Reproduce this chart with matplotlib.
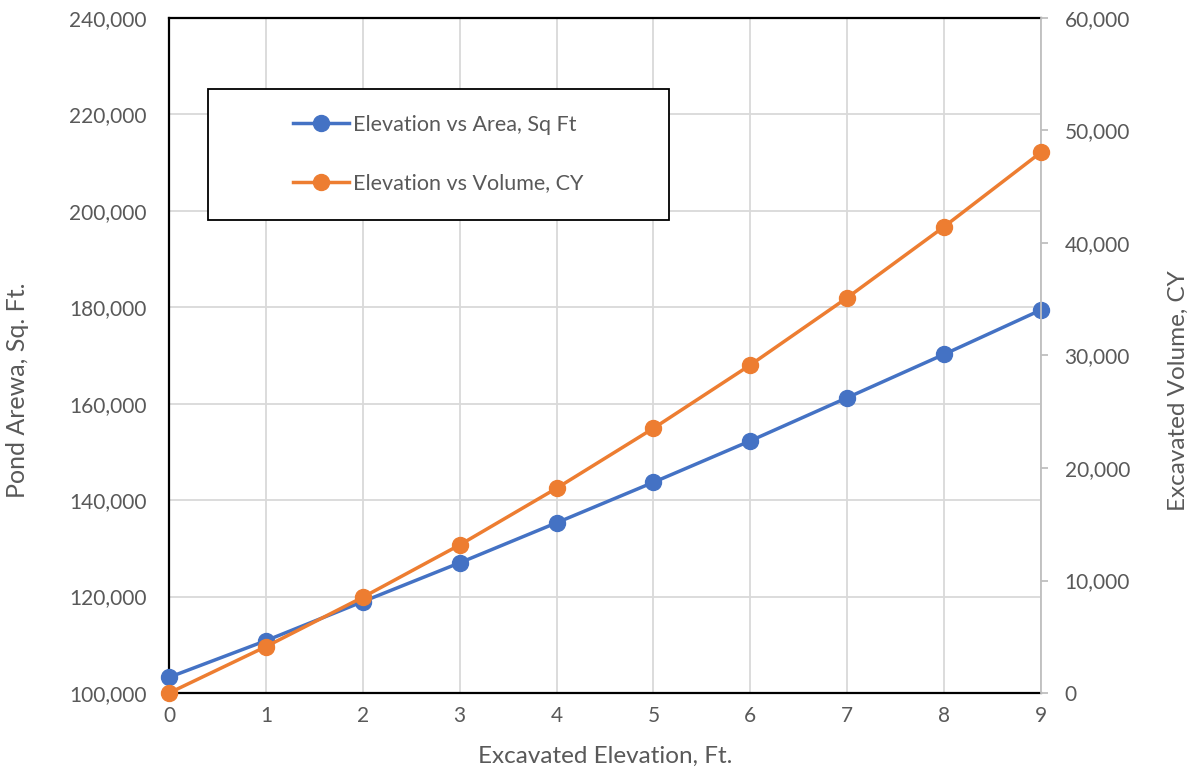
import matplotlib
matplotlib.use("Agg")
import matplotlib.pyplot as plt
from matplotlib.patches import Rectangle
from matplotlib.ticker import FuncFormatter, MultipleLocator

plt.rcParams['font.family'] = ['Lato', 'DejaVu Sans']

# Pond excavation data
elevation_ft = [0, 1, 2, 3, 4, 5, 6, 7, 8, 9]
area_sqft = [103250, 110850, 118950, 127000, 135300, 143700, 152300, 161250, 170250, 179450]
volume_cy = [0, 4120, 8510, 13160, 18200, 23530, 29160, 35140, 41450, 48060]

area_label = "Elevation vs Area, Sq Ft"
volume_label = "Elevation vs Volume, CY"

BLUE = "#4472C4"
ORANGE = "#ED7D31"
TEXT = "#595959"
GRID = "#D9D9D9"

W, H = 1188, 770
fig = plt.figure(figsize=(W / 100, H / 100), dpi=100)
ax = fig.add_axes([169 / W, 1 - 693 / H, (1041 - 169) / W, (693 - 18) / H])
ax2 = ax.twinx()

ax.plot(elevation_ft, area_sqft, color=BLUE, lw=2.5, marker='o', ms=11.5,
        label=area_label, zorder=3, clip_on=False)
ax2.plot(elevation_ft, volume_cy, color=ORANGE, lw=2.5, marker='o', ms=11.5,
         label=volume_label, zorder=3, clip_on=False)

ax.set_xlim(0, 9)
ax.set_ylim(100000, 240000)
ax2.set_ylim(0, 60000)
ax.xaxis.set_major_locator(MultipleLocator(1))
ax.yaxis.set_major_locator(MultipleLocator(20000))
ax2.yaxis.set_major_locator(MultipleLocator(10000))

fmt = FuncFormatter(lambda v, p: f"{int(round(v)):,}")
ax.yaxis.set_major_formatter(fmt)
ax2.yaxis.set_major_formatter(fmt)

ax.grid(True, color=GRID, lw=1.3, zorder=0)
ax.set_axisbelow(True)

for s in ['left', 'top', 'bottom']:
    ax.spines[s].set_color('black')
    ax.spines[s].set_linewidth(1.6)
ax.spines['right'].set_visible(False)
for s in ['left', 'top', 'bottom']:
    ax2.spines[s].set_visible(False)
ax2.spines['right'].set_color('#BFBFBF')
ax2.spines['right'].set_linewidth(1.3)

ax.tick_params(axis='y', length=0, pad=16, labelsize=15, labelcolor=TEXT)
ax.tick_params(axis='x', length=0, pad=9, labelsize=15, labelcolor=TEXT)
ax2.tick_params(axis='y', length=5, width=1.3, color='#BFBFBF', pad=12,
                labelsize=15, labelcolor=TEXT)

ax.set_xlabel("Excavated Elevation, Ft.", fontsize=17.5, color=TEXT, labelpad=15)
ax.set_ylabel("Pond Arewa, Sq. Ft.", fontsize=18, color=TEXT, labelpad=29)
ax2.set_ylabel("Excavated Volume, CY", fontsize=17.5, color=TEXT, rotation=90,
               labelpad=27)
# both axis titles sit centred on the figure height rather than the plot area
ax.yaxis.label.set_y(0.448)
ax2.yaxis.label.set_y(0.448)

# Legend box with frameless legend inside
x0, x1 = (208 - 169) / 872, (669 - 169) / 872
y0, y1 = (693 - 220) / 675, (693 - 89) / 675
ax2.add_patch(Rectangle((x0, y0), x1 - x0, y1 - y0, transform=ax2.transAxes,
                        facecolor='white', edgecolor='black', lw=1.3,
                        zorder=5, clip_on=False))
h1, l1 = ax.get_legend_handles_labels()
h2, l2 = ax2.get_legend_handles_labels()
leg = ax2.legend(h1 + h2, l1 + l2, loc='center left',
                 bbox_to_anchor=((293 - 169) / 872, (693 - 154) / 675),
                 frameon=False, fontsize=15.5, borderpad=0, borderaxespad=0,
                 handlelength=2.6, handletextpad=0.2, labelspacing=1.8,
                 labelcolor=TEXT)
leg.set_zorder(6)

fig.savefig("out.png", dpi=100)
